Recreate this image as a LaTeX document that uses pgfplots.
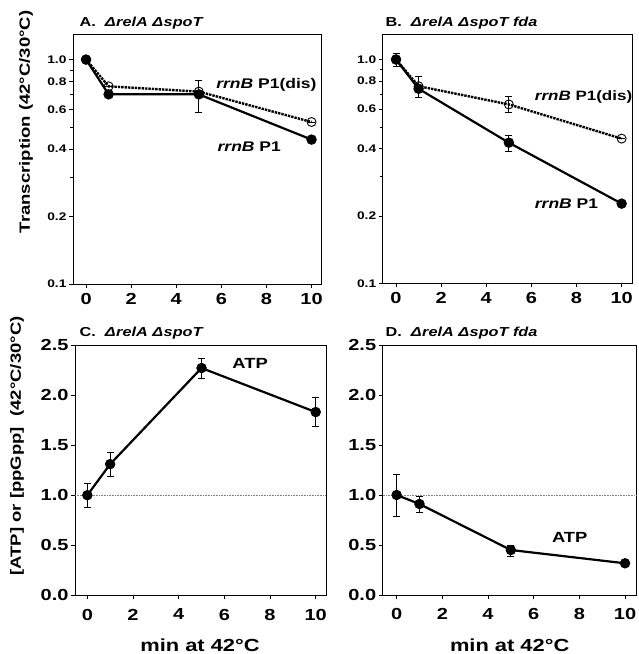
\documentclass[border=0pt]{standalone}
\usepackage{fontspec}
\setmainfont{Liberation Sans}[FakeStretch=1.25]
\usepackage{pgfplots}
\pgfplotsset{compat=1.18}
\pgfplotsset{
  mypanel/.style={
    scale only axis,
    axis line style={line width=0.8pt},
    tick align=outside,
    tick pos=left,
    major tick length=4pt,
    minor tick length=3pt,
    tick style={line width=0.6pt,black},
    xtick={0,2,4,6,8,10},
    xticklabels={0,2,4,6,8,10},
    clip=false,
  },
  mylog/.style={
    mypanel,
    ymin=0.1, ymax=1.3,
    ytick={0.1,0.2,0.4,0.6,0.8,1.0},
    yticklabels={0.1,0.2,0.4,0.6,0.8,1.0},
    minor ytick={0.3,0.5,0.7,0.9},
    yticklabel style={font=\fontsize{11}{12}\selectfont\bfseries, xshift=1pt},
    xticklabel style={font=\fontsize{16}{17}\selectfont\bfseries, yshift=-2pt},
  },
  mylin/.style={
    mypanel,
    ymin=0, ymax=2.5,
    ytick={0,0.5,1,1.5,2,2.5},
    yticklabels={0.0,0.5,1.0,1.5,2.0,2.5},
    yticklabel style={font=\fontsize{16}{17}\selectfont\bfseries, xshift=1pt},
    xticklabel style={font=\fontsize{16}{17}\selectfont\bfseries, yshift=-6pt},
  },
  myp1/.style={black, line width=2.2pt, mark=*, mark size=4.8pt, mark options={solid, fill=black, line width=0.8pt},
    error bars/y dir=both, error bars/y explicit, error bars/error bar style={line width=0.8pt,solid},
    error bars/error mark options={rotate=90, mark size=3.5pt, line width=0.8pt}},
  mydis/.style={black, line width=2.4pt, densely dotted, mark=o, mark size=4.5pt, mark options={solid, fill=white, line width=0.9pt},
    error bars/y dir=both, error bars/y explicit, error bars/error bar style={line width=0.8pt,solid},
    error bars/error mark options={rotate=90, mark size=3.5pt, line width=0.8pt}},
}
\begin{document}
\begin{tikzpicture}
\path[use as bounding box] (0pt,0pt) rectangle (638pt,654pt);
% Panel A
\begin{semilogyaxis}[mylog, at={(73pt,370pt)}, anchor=south west, width=248.7pt, height=250pt, xmin=-0.58, xmax=10.45]
\addplot[myp1] table[x=x, y=y, y error plus=ep, y error minus=em] {
x y ep em
0 1.00 0 0
1 0.70 0 0
5 0.70 0.11 0.12
10 0.44 0 0
};
\addplot[mydis] table[x=x, y=y, y error plus=ep, y error minus=em] {
x y ep em
0 1.00 0 0
1 0.76 0 0
5 0.72 0 0
10 0.527 0 0
};
\node[anchor=west, font=\fontsize{14}{15}\selectfont\bfseries] at (axis cs:5.62,0.773) {\textit{rrnB} P1(dis)};
\node[anchor=west, font=\fontsize{14}{15}\selectfont\bfseries] at (axis cs:5.68,0.409) {\textit{rrnB} P1};
\end{semilogyaxis}
% Panel B
\begin{semilogyaxis}[mylog, at={(382.7pt,370.7pt)}, anchor=south west, width=250pt, height=249.3pt, xmin=-0.59, xmax=10.49]
\addplot[myp1] table[x=x, y=y, y error plus=ep, y error minus=em] {
x y ep em
0 1.00 0.07 0.07
1 0.74 0.10 0.065
5 0.425 0.033 0.036
10 0.227 0 0
};
\addplot[mydis] table[x=x, y=y, y error plus=ep, y error minus=em] {
x y ep em
0 1.00 0 0
1 0.76 0 0
5 0.63 0.056 0.052
10 0.443 0 0
};
\node[anchor=west, font=\fontsize{13.6}{15}\selectfont\bfseries] at (axis cs:6.0,0.681) {\textit{rrnB} P1(dis)};
\node[anchor=west, font=\fontsize{14}{15}\selectfont\bfseries] at (axis cs:6.0,0.228) {\textit{rrnB} P1};
\end{semilogyaxis}
% Panel C
\begin{axis}[mylin, at={(75pt,58.7pt)}, anchor=south west, width=251pt, height=250.3pt, xmin=-0.54, xmax=10.45]
\addplot[gray, densely dotted, line width=0.6pt] coordinates {(-0.54,1) (10.45,1)};
\addplot[myp1] table[x=x, y=y, y error plus=ep, y error minus=em] {
x y ep em
0 1.00 0.12 0.12
1 1.31 0.12 0.12
5 2.27 0.10 0.10
10 1.83 0.15 0.14
};
\node[anchor=west, font=\fontsize{14.7}{15}\selectfont\bfseries] at (axis cs:6.2,2.32) {ATP};
\end{axis}
% Panel D
\begin{axis}[mylin, at={(382.7pt,59pt)}, anchor=south west, width=254pt, height=250pt, xmin=-0.61, xmax=10.51]
\addplot[gray, densely dotted, line width=0.6pt] coordinates {(-0.61,1) (10.51,1)};
\addplot[myp1] table[x=x, y=y, y error plus=ep, y error minus=em] {
x y ep em
0 1.00 0.21 0.21
1 0.91 0.075 0.085
5 0.45 0.05 0.06
10 0.317 0 0
};
\node[anchor=west, font=\fontsize{14.7}{15}\selectfont\bfseries] at (axis cs:6.65,0.58) {ATP};
\end{axis}
% titles
\node[anchor=base west, font=\fontsize{13}{14}\selectfont\bfseries] at (76pt,627pt) {A.\ \ \textit{Δ\kern0.5pt relA Δ\kern0.5pt spoT}};
\node[anchor=base west, font=\fontsize{13}{14}\selectfont\bfseries] at (382pt,627pt) {B.\ \ \textit{Δ\kern0.5pt relA Δ\kern0.5pt spoT fda}};
\node[anchor=base west, font=\fontsize{13}{14}\selectfont\bfseries] at (76pt,317.3pt) {C.\ \ \textit{Δ\kern0.5pt relA Δ\kern0.5pt spoT}};
\node[anchor=base west, font=\fontsize{13}{14}\selectfont\bfseries] at (382pt,317.3pt) {D.\ \ \textit{Δ\kern0.5pt relA Δ\kern0.5pt spoT fda}};
% y labels
\node[rotate=90, font=\fontsize{14.8}{16}\selectfont\bfseries] at (26pt,532pt) {Transcription (42°C/30°C)};
\node[rotate=90, font=\fontsize{14.8}{16}\selectfont\bfseries] at (17pt,208pt) {[ATP] or [ppGpp]\ \ (42°C/30°C)};
% x labels
\node[font=\fontsize{17.5}{18}\selectfont\bfseries] at (200pt,9pt) {min at 42°C};
\node[font=\fontsize{17.5}{18}\selectfont\bfseries] at (509.7pt,9pt) {min at 42°C};
\end{tikzpicture}
\end{document}
